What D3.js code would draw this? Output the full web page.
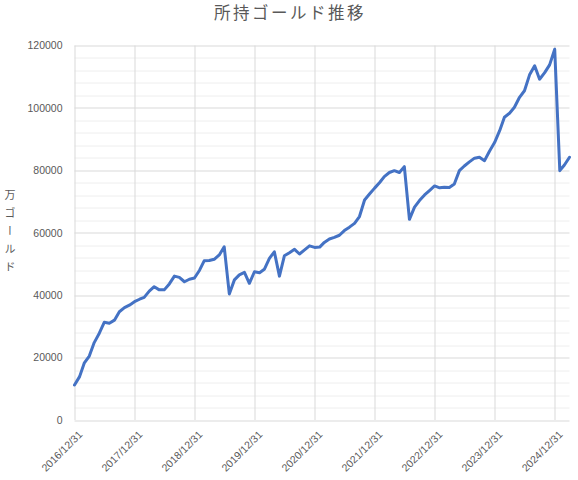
<!DOCTYPE html>
<html>
<head>
<meta charset="utf-8">
<script src="https://cdn.jsdelivr.net/npm/d3@7"></script>
<style>
  body { margin: 0; background: #fff; }
</style>
</head>
<body>
<div id="chart"></div>
<script>
// monthly gold holdings, month ends from 2016/12 to 2025/03
const firstMonth = [2016, 11];
const gold = [
    11200, 13900, 18200, 20500, 24800, 27800, 31300, 31000, 32000, 34700, 36000, 36800,
    37900, 38700, 39300, 41300, 42700, 41700, 41700, 43600, 46100, 45700, 44300, 45100,
    45500, 48000, 51000, 51100, 51500, 52900, 55500, 40400, 44900, 46500, 47300, 43800,
    47500, 47200, 48300, 51800, 53900, 46100, 52600, 53600, 54700, 53200, 54500, 55800,
    55300, 55400, 56900, 58000, 58500, 59200, 60700, 61800, 63000, 65200, 70500, 72400,
    74300, 76100, 78000, 79300, 79900, 79300, 81200, 64300, 68200, 70300, 72100, 73500,
    75000, 74400, 74600, 74500, 75600, 79900, 81400, 82700, 83900, 84200, 83100, 86100,
    88900, 92700, 97000, 98300, 100200, 103400, 105500, 110600, 113500, 109200, 111300, 113800,
    118800, 79900, 81700, 84200
];
const xTickLabels = ['2016/12/31', '2017/12/31', '2018/12/31', '2019/12/31', '2020/12/31',
    '2021/12/31', '2022/12/31', '2023/12/31', '2024/12/31'];
const yTicks = [0, 20000, 40000, 60000, 80000, 100000, 120000];
const titleText = '所持ゴールド推移';
const yLabelText = '万ゴールド';

const parseDate = d3.timeParse('%Y/%m/%d');

// last day of each month
const data = gold.map((v, i) => ({
    date: d3.timeDay.offset(d3.timeMonth.offset(new Date(firstMonth[0], firstMonth[1] + 1, 1), i), -1),
    value: v
}));

const width = 578,
    height = 480;
const margin = { top: 45.5, right: 8.5, bottom: 60, left: 74.5 };
const chartWidth = width - margin.left - margin.right;
const chartHeight = height - margin.top - margin.bottom;

const textColor = '#595959',
    majorGrid = '#d9d9d9',
    minorGrid = '#eeeeee',
    lineColor = '#4472c4',
    fontFamily = '"Liberation Sans", Arial, sans-serif',
    cjkFont = '"Noto Sans CJK JP", sans-serif';

const svg = d3.select('#chart')
    .append('svg')
    .attr('width', width)
    .attr('height', height)
    .style('background-color', '#fff');

const g = svg.append('g')
    .attr('transform', 'translate(' + margin.left + ',' + margin.top + ')');

const x = d3.scaleTime()
    .domain(d3.extent(data, d => d.date))
    .range([0, chartWidth]);

const y = d3.scaleLinear()
    .domain([0, 120000])
    .range([chartHeight, 0]);

// minor horizontal gridlines every 4000
g.append('g')
    .selectAll('line')
    .data(d3.range(4000, 120000, 4000).filter(v => v % 20000 != 0))
    .enter()
    .append('line')
    .attr('x1', 0)
    .attr('x2', chartWidth)
    .attr('y1', d => Math.round(y(d)) + 0.5)
    .attr('y2', d => Math.round(y(d)) + 0.5)
    .attr('stroke', minorGrid);

// major horizontal gridlines
g.append('g')
    .selectAll('line')
    .data(yTicks)
    .enter()
    .append('line')
    .attr('x1', 0)
    .attr('x2', chartWidth)
    .attr('y1', d => Math.round(y(d)) + 0.5)
    .attr('y2', d => Math.round(y(d)) + 0.5)
    .attr('stroke', majorGrid);

// vertical gridlines at year ends
const xTicks = xTickLabels.map(parseDate);
g.append('g')
    .selectAll('line')
    .data(xTicks)
    .enter()
    .append('line')
    .attr('x1', d => Math.round(x(d)) + 0.5)
    .attr('x2', d => Math.round(x(d)) + 0.5)
    .attr('y1', 0)
    .attr('y2', chartHeight)
    .attr('stroke', majorGrid);

// y axis labels
const yAxis = g.append('g')
    .call(d3.axisLeft(y).tickValues(yTicks).tickSize(0).tickPadding(12).tickFormat(d3.format('d')))
    .style('font-family', fontFamily)
    .style('font-size', '10.5px');
yAxis.select('.domain').remove();
yAxis.selectAll('text').attr('fill', textColor);

// x axis labels, rotated
const xAxis = g.append('g')
    .attr('transform', 'translate(0,' + chartHeight + ')')
    .call(d3.axisBottom(x).tickValues(xTicks).tickSize(0).tickFormat(d3.timeFormat('%Y/%m/%d')))
    .style('font-family', fontFamily)
    .style('font-size', '10.5px');
xAxis.select('.domain').remove();
xAxis.selectAll('text')
    .attr('fill', textColor)
    .attr('text-anchor', 'end')
    .attr('dy', 0)
    .attr('transform', 'translate(6,13) rotate(-45)');

// the line
const line = d3.line()
    .x(d => x(d.date))
    .y(d => y(d.value));

g.append('path')
    .datum(data)
    .attr('fill', 'none')
    .attr('stroke', lineColor)
    .attr('stroke-width', 3)
    .attr('stroke-linejoin', 'round')
    .attr('stroke-linecap', 'round')
    .attr('d', line);

// title
svg.append('text')
    .attr('x', width / 2 + 1)
    .attr('y', 19)
    .attr('text-anchor', 'middle')
    .attr('fill', textColor)
    .style('font-family', cjkFont)
    .style('font-size', '16.5px')
    .style('letter-spacing', '2.5px')
    .text(titleText);

// vertical y label
svg.append('text')
    .attr('x', 10)
    .attr('y', 189)
    .attr('fill', textColor)
    .style('font-family', cjkFont)
    .style('font-size', '11px')
    .style('writing-mode', 'vertical-rl')
    .style('text-orientation', 'upright')
    .style('letter-spacing', '7px')
    .text(yLabelText);
</script>
</body>
</html>
